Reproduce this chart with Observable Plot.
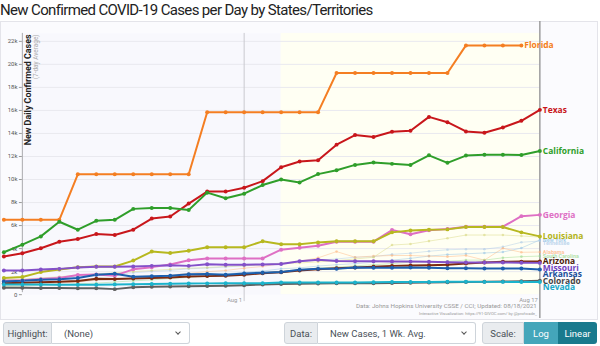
<!DOCTYPE html>
<html><head><meta charset="utf-8">
<script src="https://cdn.jsdelivr.net/npm/d3@7"></script>
<script src="https://cdn.jsdelivr.net/npm/@observablehq/plot@0.6"></script>
<style>
body{margin:0;width:600px;height:346px;overflow:hidden;background:#fff;font-family:Roboto,"Helvetica Neue",Arial,sans-serif;position:relative}
#title{position:absolute;left:0;top:0;font-size:15px;letter-spacing:-0.65px;line-height:20px;color:#222;white-space:nowrap}
#chart{position:absolute;left:0;top:21px;width:598px;height:299px;box-sizing:border-box;border:1px solid #e4e4ea;background:#fbfbfe}
#chart svg{position:absolute;left:-1px;top:-1px;overflow:visible}
.grp{position:absolute;top:322px;height:22px;display:flex;font-size:9.5px;color:#495057}
.lab{background:#e9ecef;border:1px solid #ced4da;border-radius:3px 0 0 3px;display:flex;align-items:center;justify-content:center;box-sizing:border-box;height:22px}
.sel{background:#fff;border:1px solid #ced4da;border-left:none;border-radius:0 3px 3px 0;display:flex;align-items:center;padding-left:12px;position:relative;box-sizing:border-box;height:22px}
.chev{position:absolute;right:9px;top:7px;width:3px;height:3px;border-right:1.2px solid #555;border-bottom:1.2px solid #555;transform:rotate(45deg)}
.btn{display:flex;align-items:center;justify-content:center;color:#fff;box-sizing:border-box;height:22px}
</style></head>
<body>
<div id="title">New Confirmed COVID-19 Cases per Day by States/Territories</div>
<div id="chart"></div>
<div class="grp" style="left:3px"><span class="lab" style="width:49px">Highlight:</span><span class="sel" style="width:138px">(None)<span class="chev"></span></span></div>
<div class="grp" style="left:284px"><span class="lab" style="width:34px">Data:</span><span class="sel" style="width:158px">New Cases, 1 Wk. Avg.<span class="chev"></span></span></div>
<div class="grp" style="left:482px"><span class="lab" style="width:42px">Scale:</span><span class="btn" style="width:34px;background:#44a6ba">Log</span><span class="btn" style="width:39px;background:#197a8d;border-radius:0 3px 3px 0">Linear</span></div>
<script>
// ---- categories / ticks ----
const firstDay = "2021-07-19";
const lastDay = "2021-08-17";
const axisStart = "2021-07-20";
const highlightStart = "2021-08-03";
const tickDays = ["2021-08-01", "2021-08-17"];
const tickNames = ["Aug 1", "Aug 17"];
const yTicks = [0, 2000, 4000, 6000, 8000, 10000, 12000, 14000, 16000, 18000, 20000, 22000];
const yMax = 22690;

// ---- series values (7-day avg new cases), Jul 19 .. Aug 17 ----
const florida = [6500,6500,6500,6500,10450,10450,10450,10450,10450,10450,10450,15850,15850,15850,15850,15850,15850,15850,19250,19250,19250,19250,19250,19250,19250,21650,21650,21650,21650];
const texas = [3310,3590,4030,4600,4830,5260,5180,5640,6610,6790,7910,8950,8950,9290,9860,11070,11560,11670,13030,13860,13690,14150,14230,15440,14980,14180,14060,14520,15100,16050];
const california = [3680,4340,5060,6330,5640,6410,6500,7450,7530,7530,7360,8860,8370,8770,9520,10000,9750,10470,10810,11270,11470,11360,11270,12100,11450,12080,12160,12160,12130,12480];
const georgia = [1200,1250,1350,1450,1700,1750,1650,2200,2390,2620,2990,3150,3150,3150,3150,3910,4080,4250,4600,4600,4600,5610,5240,5600,5700,5900,5900,5900,6820,6930];
const louisiana = [1440,1530,1960,2190,2390,2450,2450,2960,3740,3620,3820,4110,4110,4110,4630,4370,4370,4540,4630,4630,4630,5410,5580,5640,5670,5870,5870,5870,5410,5060];
const arizona = [1000,1030,1080,1120,1180,1380,1350,1400,1450,1500,1580,1610,1640,1730,1850,1950,2100,2200,2300,2360,2420,2500,2530,2550,2600,2700,2800,2850,2870,2880];
const missouri = [2100,2100,2190,2240,2360,2420,2420,2450,2500,2560,2500,2650,2600,2600,2620,2670,2900,3030,2930,2900,2900,2880,2870,2850,2820,2800,2800,2800,2780,2760];
const arkansas = [1150,1200,1290,1330,1440,1730,1810,1550,1600,1640,1770,1800,1730,1840,1900,1960,2160,2240,2240,2360,2340,2340,2360,2340,2300,2300,2270,2270,2270,2190];
const colorado = [600,600,580,570,560,550,480,650,680,700,720,760,780,820,890,920,940,960,980,990,1000,1020,1040,1060,1080,1100,1120,1140,1170,1200];
const nevada = [890,880,880,870,870,870,880,900,920,940,960,980,990,1000,1000,1060,1060,1060,1060,1060,1080,1100,1100,1100,1120,1120,1110,1110,1100,1090];
const newYork = [1000,1050,1120,1150,1220,1260,1300,1420,1500,1560,1650,1720,1800,1930,2050,2250,2330,2480,2600,2690,2820,3000,3150,3350,3480,3550,3620,3700,4050,4750];
const tennessee = [1200,1310,1400,1520,1600,1750,1790,1900,2020,2100,2250,2310,2400,2520,2600,2750,2860,3000,3100,3250,3300,3500,3600,3770,3900,3950,3950,4150,4550,4660];
const alabama = [800,850,900,1000,1100,1250,1300,1450,1600,1700,1850,2000,2100,2300,2450,2700,2900,3200,3740,3250,3350,3400,3400,3350,3300,3400,3000,4030,3680,3700];
const southCarolina = [700,750,820,850,950,1000,1100,1200,1280,1400,1500,1600,1680,1800,1900,2000,2150,2300,2400,2500,2600,2700,2820,2850,2900,3000,3000,3200,3300,3350];
const mississippi = [1300,1350,1450,1550,1700,1800,1900,2000,2100,2200,2300,2350,2450,2500,2600,2700,2750,2850,2950,3100,3250,4310,4400,4650,4900,5180,5180,5180,5100,5000];

const mainNames = ["Florida","Texas","California","Georgia","Louisiana","Arizona","Missouri","Arkansas","Colorado","Nevada"];
const mainValues = [florida,texas,california,georgia,louisiana,arizona,missouri,arkansas,colorado,nevada];
const mainColors = ["#f47e22","#c8161b","#2f9e2a","#de6fc4","#b7b81f","#7d2a0f","#8350c9","#1c5fae","#5f5f5f","#1bb3cc"];
const mainLabelColors = ["#f47e22","#c8161b","#2f9e2a","#de6fc4","#b2b31a","#4a1a08","#7040bf","#1a4f9a","#444444","#1aa8c8"];
const faintNames = ["New York","Tennessee","Alabama","South Carolina",""];
const faintValues = [newYork,tennessee,alabama,southCarolina,mississippi];
const faintColors = ["#8fc1e3","#a9c9e6","#ffb27a","#98d98a","#d6d67a"];

// ---- build tables ----
const days = d3.utcDay.range(new Date(firstDay), d3.utcDay.offset(new Date(lastDay), 1));
function toRows(names, values, colors) {
  return names.flatMap((n, k) => values[k].map((v, i) => ({state: n + "#" + k, name: n, date: days[i], value: v, color: colors[k]})));
}
const mainRows = toRows(mainNames, mainValues, mainColors);
const faintRows = toRows(faintNames, faintValues, faintColors);

const W = 600, H = 299, mT = 12, mB = 24, mL = 22, mR = 57;
const yPx = d3.scaleLinear([0, yMax], [H - mB, mT]);

function dodge(names, values, colors, gap) {
  const items = names.map((n, k) => ({name: n, date: days[values[k].length - 1], value: values[k][values[k].length - 1], color: colors[k], py: yPx(values[k][values[k].length - 1])}))
    .filter(d => d.name);
  items.sort((a, b) => a.py - b.py);
  for (let i = 1; i < items.length; i++) items[i].py = Math.max(items[i].py, items[i - 1].py + gap);
  items.forEach(d => d.labelY = yPx.invert(d.py));
  return items;
}
const mainLabels = dodge(mainNames, mainValues, mainLabelColors, 6.5);
const faintLabels = dodge(faintNames, faintValues, faintColors, 3.8);

const fmt = d => d === 0 ? "0" : (d / 1000) + "k";

const chart = Plot.plot({
  width: W, height: H,
  marginTop: mT, marginBottom: mB, marginLeft: mL, marginRight: mR,
  x: {type: "utc", domain: [new Date(axisStart), new Date(lastDay)], axis: null},
  y: {domain: [0, yMax], axis: null},
  color: {type: "identity"},
  style: {background: "transparent", fontFamily: "Roboto, sans-serif", overflow: "visible"},
  marks: [
    Plot.frame({fill: "#f8f8fd", stroke: "none"}),
    Plot.rect([{x1: new Date(highlightStart), x2: new Date(lastDay)}], {x1: "x1", x2: "x2", fill: "#fffff3"}),
    Plot.ruleY(yTicks.slice(1), {stroke: "#e9e9ef", strokeWidth: 1}),
    Plot.ruleX([new Date(tickDays[0])], {stroke: "#c9c9cf", insetBottom: -7}),
    Plot.ruleX([new Date(tickDays[1])], {stroke: "#8e8e8e", strokeWidth: 1.3, insetTop: -12, insetBottom: -24}),
    Plot.ruleX([new Date(axisStart)], {stroke: "#a9a9ad", y1: 0, y2: yMax, insetTop: -2}),
    Plot.ruleY(yTicks, {x1: new Date(axisStart), x2: new Date(axisStart), insetLeft: -3, stroke: "#999"}),
    Plot.text(yTicks, {y: d => d, x: new Date(axisStart), text: fmt, textAnchor: "end", dx: -5, fontSize: 6, fill: "#555"}),
    Plot.text(tickDays.map((d, i) => ({date: new Date(d), label: tickNames[i]})), {x: "date", frameAnchor: "bottom", text: "label", textAnchor: "end", dx: -2, dy: 5, lineAnchor: "middle", fontSize: 6, fill: "#999"}),
    Plot.text(["New Daily Confirmed Cases"], {frameAnchor: "top-left", rotate: -90, textAnchor: "end", lineAnchor: "middle", dx: 6, dy: 1, fontSize: 9, fontWeight: "bold", fill: "#222"}),
    Plot.text(["(7-day Average)"], {frameAnchor: "top-left", rotate: -90, textAnchor: "end", lineAnchor: "middle", dx: 14, dy: 1, fontSize: 6.5, fill: "#aaa"}),
    // faint series
    Plot.line(faintRows, {x: "date", y: "value", z: "state", stroke: "color", strokeWidth: 1, strokeOpacity: 0.45}),
    Plot.dot(faintRows, {x: "date", y: "value", fill: "color", r: 1.3, fillOpacity: 0.55}),
    Plot.text(faintLabels, {x: "date", y: "labelY", text: "name", fill: "color", textAnchor: "start", dx: 3, fontSize: 5.5, fontWeight: "bold", fillOpacity: 0.75}),
    // main series
    Plot.line(mainRows, {x: "date", y: "value", z: "state", stroke: "color", strokeWidth: 2}),
    Plot.dot(mainRows, {x: "date", y: "value", fill: "color", r: 2}),
    Plot.text(mainLabels, {x: "date", y: "labelY", text: "name", fill: "color", textAnchor: "start", dx: 3, fontSize: 8.5, fontWeight: "bold", fontFamily: "'Open Sans', sans-serif"}),
    // credits
    Plot.text(["Data: Johns Hopkins University CSSE / CCI; Updated: 08/18/2021"], {frameAnchor: "bottom-right", textAnchor: "end", dx: -3, dy: 13, fontSize: 6.3, fill: "#999"}),
    Plot.text(["Interactive Visualization: https://91-DIVOC.com/ by @profwade_"], {frameAnchor: "bottom-right", textAnchor: "end", dx: -3, dy: 20, fontSize: 4.2, fill: "#999"})
  ]
});
document.getElementById("chart").appendChild(chart);
</script>
</body></html>
